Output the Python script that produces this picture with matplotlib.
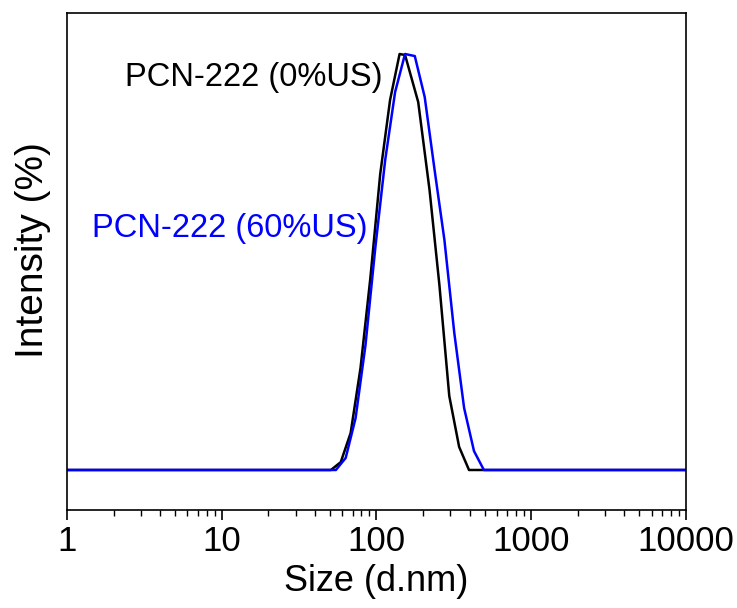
import numpy as np
import matplotlib
matplotlib.use("Agg")
import matplotlib.pyplot as plt
from matplotlib.ticker import LogLocator, NullFormatter, FixedLocator

plt.rcParams['font.family'] = ['Liberation Sans', 'DejaVu Sans']

# size (d.nm) and intensity (%)
size_0us = [1, 50.75, 58.77, 68.06, 78.82, 91.28, 105.7, 122.4, 141.0, 153.0,
            186.0, 220.2, 255.0, 295.3, 342.0, 396.1, 10000]
int_0us = [0, 0, 0.38, 1.78, 4.90, 9.23, 14.23, 17.79, 20.0, 19.95,
           17.69, 13.46, 8.89, 3.56, 1.11, 0, 0]

size_60us = [1, 54.65, 63.24, 73.28, 84.9, 98.2, 113.8, 131.9, 152.9, 176.8,
             204.9, 237.4, 274.7, 318.2, 368.3, 426.6, 494.3, 10000]
int_60us = [0, 0, 0.58, 2.50, 6.01, 10.67, 14.90, 18.17, 20.0, 19.90,
            17.93, 14.42, 11.06, 6.59, 2.98, 0.91, 0, 0]

xticks = [1, 10, 100, 1000, 10000]
xticklabels = ['1', '10', '100', '1000', '10000']

fig = plt.figure(figsize=(7.37, 6.08), dpi=100)
ax = fig.add_axes([0.0909, 0.1612, 0.8399, 0.8174])

ax.plot(size_0us, int_0us, color='black', lw=1.8)
ax.plot(size_60us, int_60us, color='blue', lw=1.8)

ax.set_xscale('log')
ax.set_xlim(1, 10000)
ax.set_ylim(-1.923, 21.97)

ax.xaxis.set_major_locator(FixedLocator(xticks))
ax.set_xticklabels(xticklabels)
ax.xaxis.set_minor_locator(LogLocator(base=10, subs=np.arange(2, 10), numticks=20))
ax.xaxis.set_minor_formatter(NullFormatter())
ax.tick_params(axis='x', which='major', direction='out', length=7, width=1.2,
               labelsize=25, pad=4)
ax.tick_params(axis='x', which='minor', direction='out', length=4, width=1.0)
ax.set_yticks([])

for s in ax.spines.values():
    s.set_linewidth(1.2)

ax.set_xlabel('Size (d.nm)', fontsize=26, labelpad=4)
ax.set_ylabel('Intensity (%)', fontsize=28)
ax.yaxis.set_label_coords(-0.026, 0.523)

ax.text(110, 18.85, 'PCN-222 (0%US)', color='black', fontsize=23.5,
        ha='right', va='center')
ax.text(88, 11.59, 'PCN-222 (60%US)', color='blue', fontsize=23.5,
        ha='right', va='center')

fig.savefig('out.png', dpi=100)
